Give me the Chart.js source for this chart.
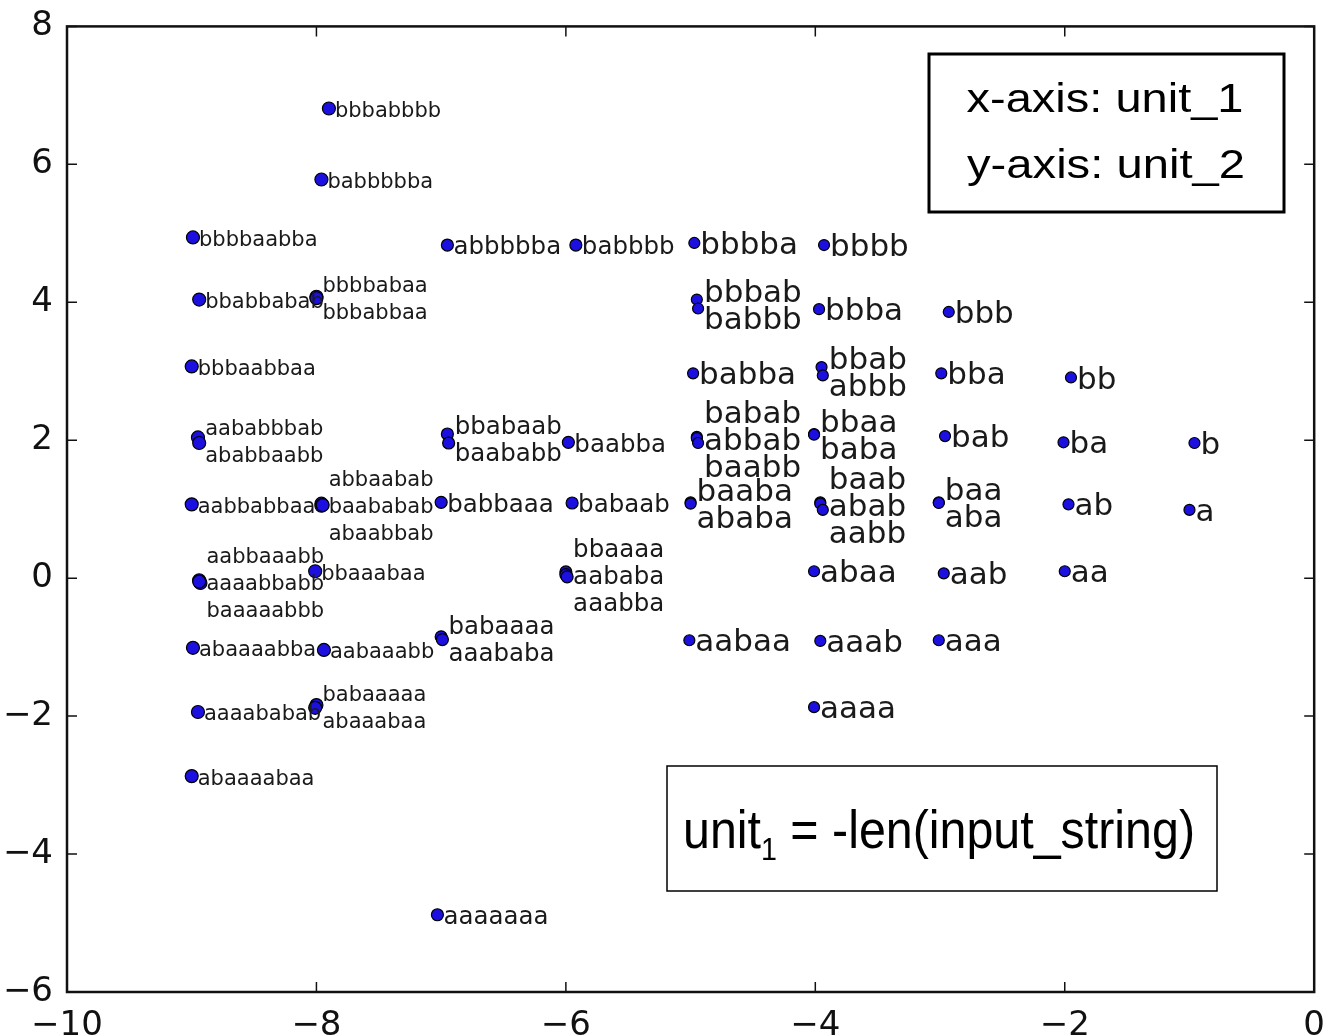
<!DOCTYPE html>
<html>
<head>
<meta charset="utf-8">
<script src="https://cdn.jsdelivr.net/npm/chart.js@4.4.1/dist/chart.umd.min.js"></script>
<style>
  html, body { margin: 0; padding: 0; background: #fff; }
</style>
</head>
<body>
<canvas id="scatter" width="1331" height="1036"></canvas>
<script>
// strings and their two unit activations (unit_1 on x, unit_2 on y)
const words = [
  'bbbbaabba', 'bbabbabab', 'bbbaabbaa', 'aababbbab', 'ababbaabb', 'aabbabbaa',
  'aabbaaabb', 'aaaabbabb', 'baaaaabbb', 'abaaaabba', 'aaaababab', 'abaaaabaa',
  'bbbabbbb', 'babbbbba', 'bbbbabaa', 'bbbabbaa', 'abbaabab', 'baababab', 'abaabbab',
  'bbaaabaa', 'aabaaabb', 'babaaaaa', 'abaaabaa',
  'abbbbba', 'bbabaab', 'baababb', 'babbaaa', 'babaaaa', 'aaababa', 'aaaaaaa',
  'babbbb', 'baabba', 'babaab', 'bbaaaa', 'aababa', 'aaabba',
  'bbbba', 'bbbab', 'babbb', 'babba', 'babab', 'abbab', 'baabb', 'baaba', 'ababa', 'aabaa',
  'bbbb', 'bbba', 'bbab', 'abbb', 'bbaa', 'baba', 'baab', 'abab', 'aabb', 'abaa', 'aaab', 'aaaa',
  'bbb', 'bba', 'bab', 'baa', 'aba', 'aab', 'aaa',
  'bb', 'ba', 'ab', 'aa',
  'b', 'a'
];
const unit1 = [
  -8.99, -8.94, -9.00, -8.95, -8.94, -9.00,
  -8.94, -8.93, -8.94, -8.99, -8.95, -9.00,
  -7.90, -7.96, -8.00, -8.00, -7.96, -7.96, -7.95,
  -8.01, -7.94, -8.00, -8.01,
  -6.95, -6.95, -6.94, -7.00, -7.00, -6.99, -7.03,
  -5.92, -5.98, -5.95, -6.00, -6.00, -5.99,
  -4.97, -4.95, -4.94, -4.98, -4.95, -4.95, -4.94, -5.00, -5.00, -5.01,
  -3.93, -3.97, -3.95, -3.94, -4.01, -4.01, -3.96, -3.96, -3.94, -4.01, -3.96, -4.01,
  -2.93, -2.99, -2.96, -3.01, -3.01, -2.97, -3.01,
  -1.95, -2.01, -1.97, -2.00,
  -0.96, -1.00
];
const unit2 = [
  4.94, 4.04, 3.07, 2.04, 1.96, 1.07,
  -0.03, -0.07, -0.05, -1.01, -1.94, -2.87,
  6.81, 5.78, 4.08, 4.06, 1.08, 1.05, 1.06,
  0.10, -1.04, -1.84, -1.88,
  4.83, 2.09, 1.96, 1.10, -0.85, -0.89, -4.88,
  4.83, 1.97, 1.09, 0.09, 0.05, 0.02,
  4.86, 4.04, 3.91, 2.97, 2.05, 2.03, 1.96, 1.10, 1.08, -0.90,
  4.83, 3.90, 3.06, 2.94, 2.09, 2.08, 1.10, 1.08, 0.99, 0.10, -0.91, -1.87,
  3.86, 2.97, 2.06, 1.10, 1.09, 0.07, -0.90,
  2.91, 1.97, 1.07, 0.10,
  1.96, 0.99
];

const minus = v => String(v).replace('-', '\u2212');
const labelSize = w => (w.length >= 8 ? 21 : w.length >= 6 ? 24.5 : 31);
const markerSize = w => (w.length >= 8 ? 6.5 : w.length >= 6 ? 6 : 5.5);

// word labels: points that sit on top of each other share a stacked block of text
const wordLabels = {
  id: 'wordLabels',
  afterDatasetsDraw(chart) {
    const ctx = chart.ctx;
    const pts = chart.getDatasetMeta(0).data;
    const groups = [];
    pts.forEach((p, i) => {
      const g = groups.find(g => words[g[0]].length === words[i].length &&
        Math.abs(pts[g[0]].x - p.x) < 14 && Math.abs(pts[g[0]].y - p.y) < 14);
      if (g) g.push(i); else groups.push([i]);
    });
    ctx.save();
    ctx.fillStyle = '#1a1a1a';
    ctx.textBaseline = 'middle';
    ctx.textAlign = 'left';
    groups.forEach(g => {
      const x0 = Math.max(...g.map(i => pts[i].x)) + 6;
      const yc = g.reduce((s, i) => s + pts[i].y, 0) / g.length + 3;
      ctx.font = labelSize(words[g[0]]) + 'px "DejaVu Sans"';
      g.forEach((i, k) => ctx.fillText(words[i], x0, yc + (k - (g.length - 1) / 2) * 27));
    });
    ctx.restore();
  }
};

// text drawn with a horizontal squeeze/stretch so it fills a given width
function fitText(ctx, parts, cx, baseline, width) {
  let total = 0;
  parts.forEach(p => { ctx.font = p.font; p.w = ctx.measureText(p.text).width; total += p.w; });
  const sx = width / total;
  ctx.save();
  ctx.translate(cx - width / 2, baseline);
  ctx.scale(sx, 1);
  let x = 0;
  parts.forEach(p => { ctx.font = p.font; ctx.fillText(p.text, x, p.dy || 0); x += p.w; });
  ctx.restore();
}

// boxed frame, inward tick marks and the two note boxes
const frame = {
  id: 'frame',
  afterDraw(chart) {
    const { ctx, chartArea: a, scales: { x, y } } = chart;
    ctx.save();
    ctx.strokeStyle = '#111';
    ctx.lineWidth = 1.5;
    ctx.beginPath();
    x.ticks.forEach(t => {
      const px = x.getPixelForValue(t.value);
      ctx.moveTo(px, a.bottom); ctx.lineTo(px, a.bottom - 10);
      ctx.moveTo(px, a.top); ctx.lineTo(px, a.top + 10);
    });
    y.ticks.forEach(t => {
      const py = y.getPixelForValue(t.value);
      ctx.moveTo(a.left, py); ctx.lineTo(a.left + 10, py);
      ctx.moveTo(a.right, py); ctx.lineTo(a.right - 10, py);
    });
    ctx.stroke();
    ctx.lineWidth = 2.5;
    ctx.strokeRect(a.left, a.top, a.right - a.left, a.bottom - a.top);

    ctx.fillStyle = '#fff';
    ctx.strokeStyle = '#000';
    ctx.lineWidth = 3;
    ctx.fillRect(929, 54, 355, 158);
    ctx.strokeRect(929, 54, 355, 158);
    ctx.fillRect(667, 766, 550, 125);
    ctx.lineWidth = 1.5;
    ctx.strokeRect(667, 766, 550, 125);

    ctx.fillStyle = '#000';
    ctx.textBaseline = 'alphabetic';
    ctx.textAlign = 'left';
    const f1 = '41px "Liberation Sans", Arial, sans-serif';
    fitText(ctx, [{ text: 'x-axis: unit_1', font: f1 }], 1105, 112, 277);
    fitText(ctx, [{ text: 'y-axis: unit_2', font: f1 }], 1106, 178, 278);
    const f2 = '54px "Liberation Sans", Arial, sans-serif';
    fitText(ctx, [
      { text: 'unit', font: f2 },
      { text: '1', font: '32px "Liberation Sans", Arial, sans-serif', dy: 12 },
      { text: ' = -len(input_string)', font: f2 }
    ], 939, 848, 512);
    ctx.restore();
  }
};

const tickFont = { family: 'DejaVu Sans', size: 34 };

new Chart(document.getElementById('scatter'), {
  type: 'scatter',
  data: {
    datasets: [{
      data: words.map((w, i) => ({ x: unit1[i], y: unit2[i] })),
      backgroundColor: '#1c10e0',
      borderColor: '#000',
      borderWidth: 1.2,
      pointRadius: c => markerSize(words[c.dataIndex] || ''),
      pointHoverRadius: c => markerSize(words[c.dataIndex] || '')
    }]
  },
  options: {
    responsive: false,
    animation: false,
    devicePixelRatio: 1,
    layout: { padding: { top: 26, right: 14, left: 0, bottom: 0 } },
    plugins: { legend: { display: false }, tooltip: { enabled: false } },
    scales: {
      x: {
        type: 'linear', min: -10, max: 0,
        grid: { display: false }, border: { display: false },
        ticks: { stepSize: 2, font: tickFont, color: '#111', padding: 6, callback: minus, maxRotation: 0 },
        afterFit: s => { s.height = 44; }
      },
      y: {
        type: 'linear', min: -6, max: 8,
        grid: { display: false }, border: { display: false },
        ticks: { stepSize: 2, font: tickFont, color: '#111', padding: 6, callback: minus },
        afterFit: s => { s.width = 67; }
      }
    }
  },
  plugins: [wordLabels, frame]
});
</script>
</body>
</html>
